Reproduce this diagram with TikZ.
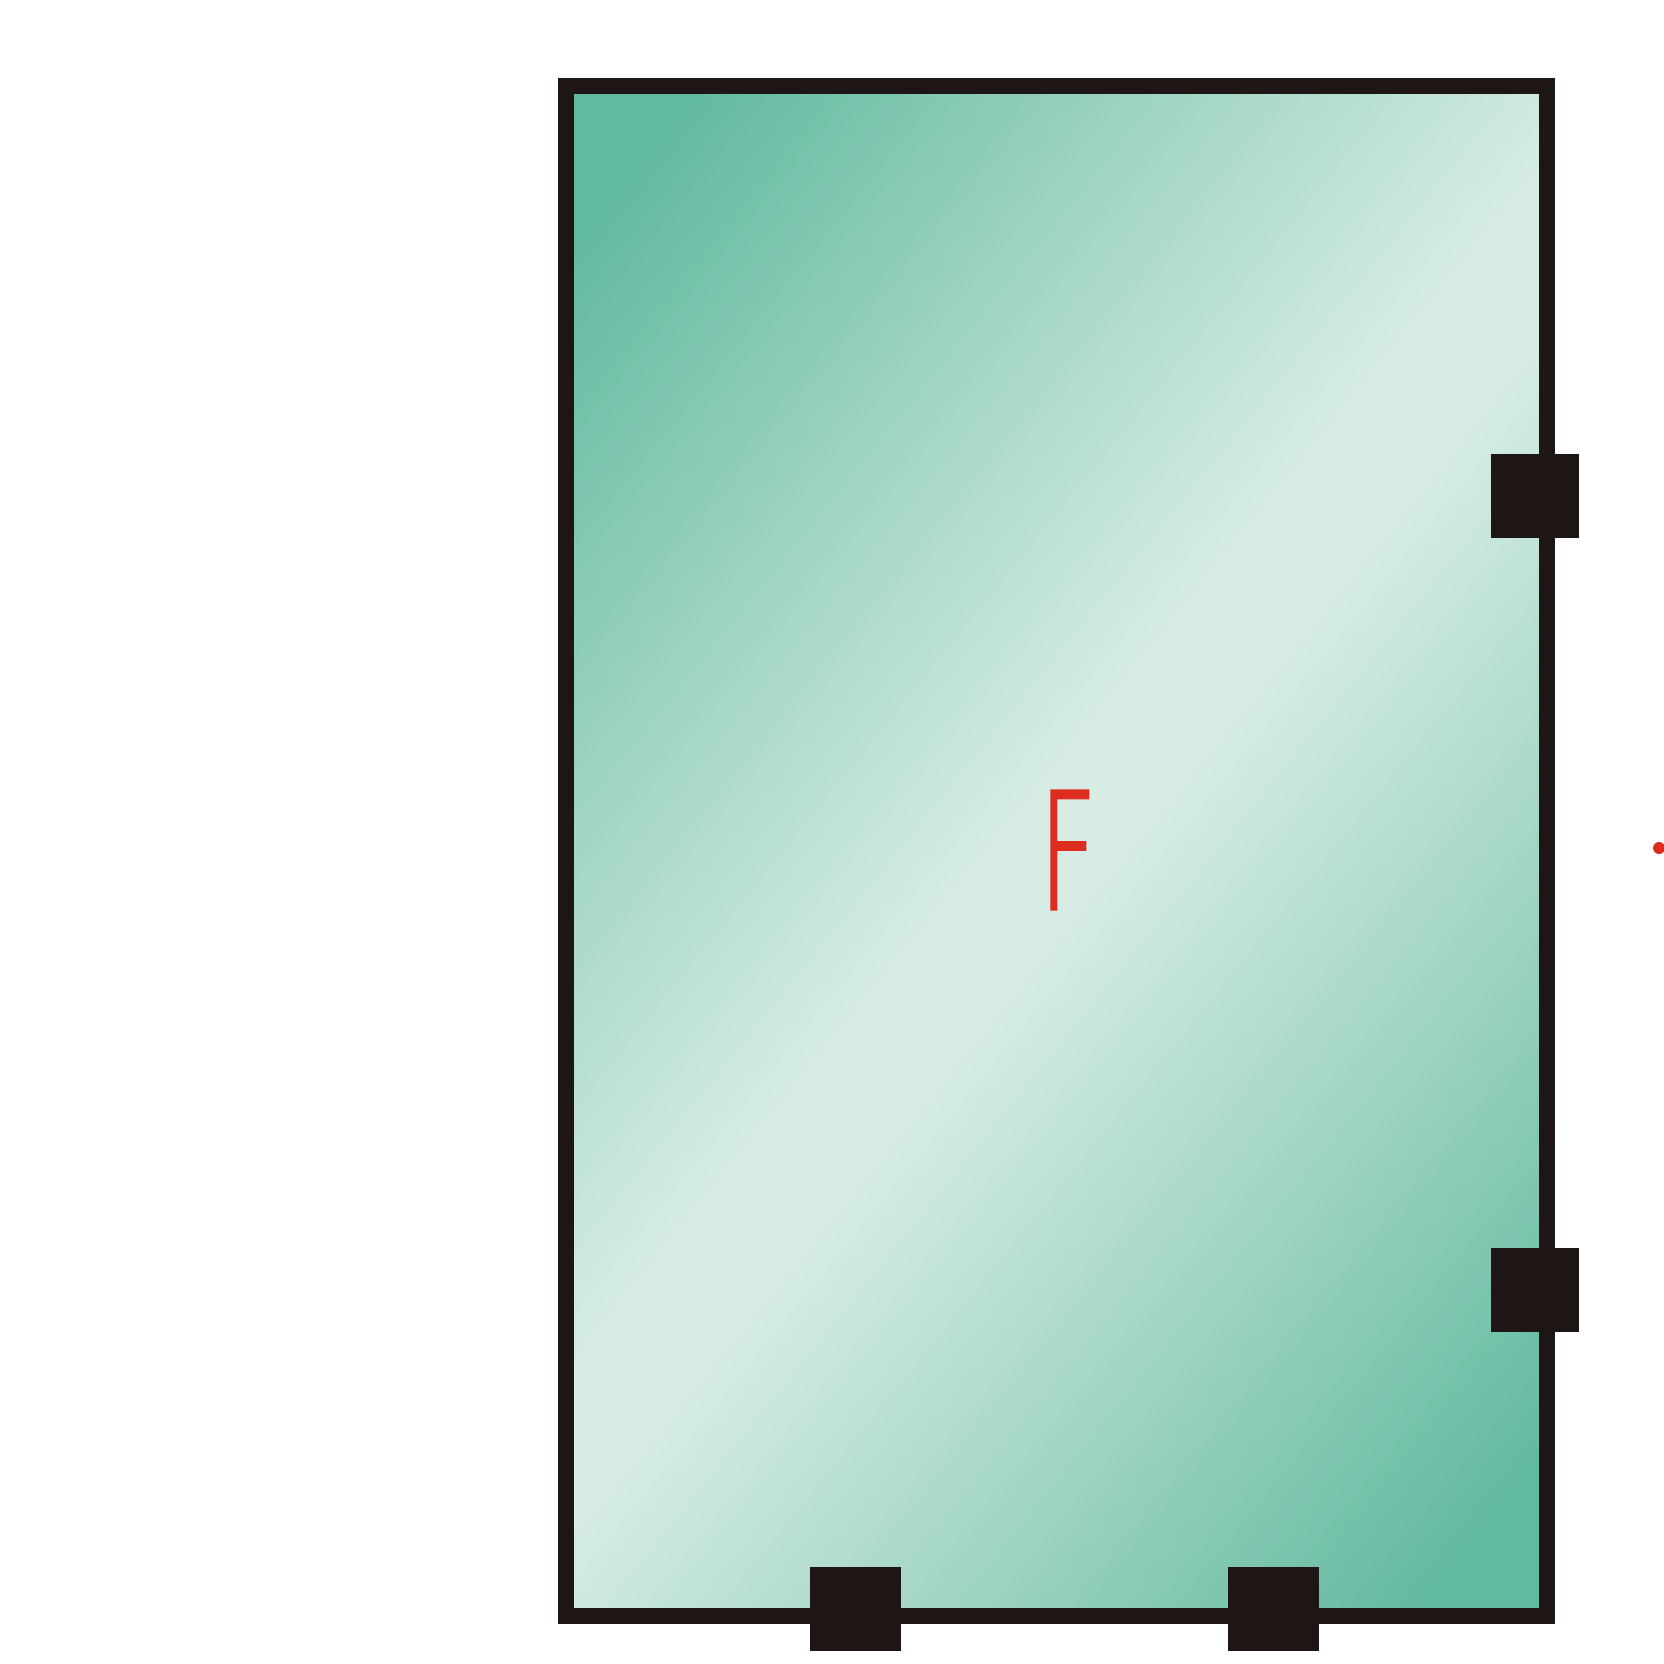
\documentclass[tikz,border=0pt]{standalone}
\usepackage{fontspec}
\setmainfont{Liberation Sans}
\newfontfamily\thinfont[FakeBold=2]{DejaVu Sans ExtraLight}
\usepackage{tikz}

\definecolor{frameblack}{RGB}{30,22,20}
\definecolor{glassdark}{RGB}{98,186,160}
\definecolor{glassmid}{RGB}{160,212,196}
\definecolor{glasslight}{RGB}{214,236,229}
\definecolor{markred}{RGB}{220,45,30}

\pgfdeclarehorizontalshading{glassfill}{100bp}{color(0bp)=(glassdark); color(19bp)=(glassdark); color(34bp)=(glassmid); color(48bp)=(glasslight); color(52bp)=(glasslight); color(66bp)=(glassmid); color(81bp)=(glassdark); color(100bp)=(glassdark)}

\begin{document}
\begin{tikzpicture}[x=0.1mm,y=-0.1mm]
	\useasboundingbox[fill=white] (0,0) rectangle (1664,1664);
	% pane
	\shade[shading=glassfill,shading angle=-39] (566,86) rectangle (1547,1616);
	\draw[frameblack,line width=4.6pt] (566,86) rectangle (1547,1616);
	% hinges on the right side
	\foreach \y in {454,1248} {
		\fill[frameblack] (1491,\y) rectangle (1579,\y+84);
	}
	% hinges at the bottom
	\foreach \x in {810,1228} {
		\fill[frameblack] (\x,1567) rectangle (\x+91,1651);
	}
	\node[text=markred,font=\thinfont\fontsize{46}{46}\selectfont,xscale=0.62] (label) at (1068,850) {F};
	\fill[markred] (1659,848) circle (6);
\end{tikzpicture}
\end{document}
